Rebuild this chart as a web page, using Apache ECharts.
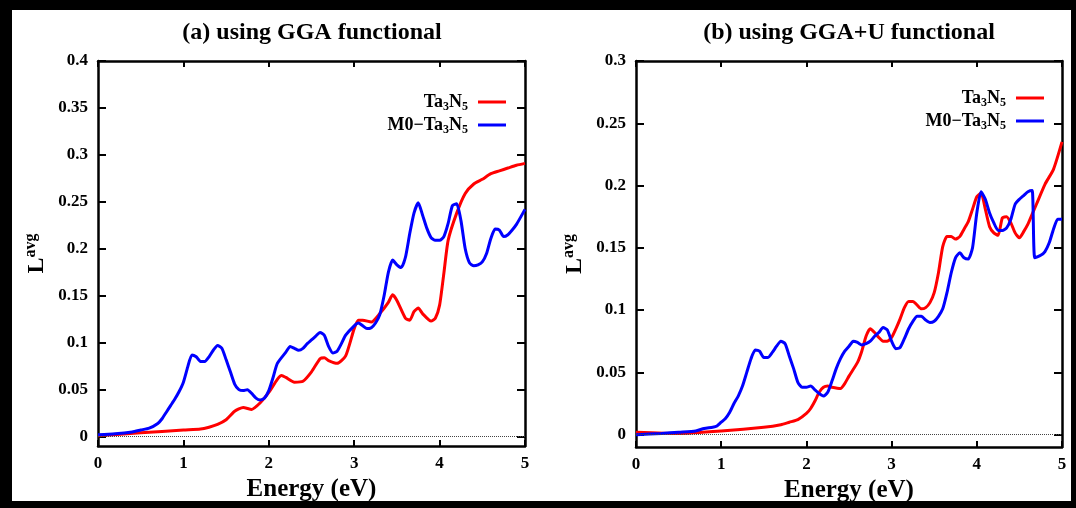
<!DOCTYPE html>
<html>
<head>
<meta charset="utf-8">
<title>Lavg</title>
<script src="https://cdn.jsdelivr.net/npm/echarts@6/dist/echarts.min.js"></script>
<style>
html, body { margin: 0; padding: 0; background: #000; }
#chart { width: 1076px; height: 508px; }
</style>
</head>
<body>
<div id="chart"></div>
<script>
// panel titles / legend names
var titles = ['(a) using GGA functional', '(b) using GGA+U functional'];
var names = ['Ta3N5', 'M0-Ta3N5'];

// tick values
var xTicks = [0, 1, 2, 3, 4, 5];
var yTicksA = [0, 0.05, 0.1, 0.15, 0.2, 0.25, 0.3, 0.35, 0.4];
var yTicksB = [0, 0.05, 0.1, 0.15, 0.2, 0.25, 0.3];

// (a) GGA - Ta3N5
var ggaRedE = [0, 0.5, 1.0, 1.2, 1.3, 1.4, 1.5, 1.6, 1.7, 1.8, 1.9, 2.0, 2.1, 2.15, 2.2, 2.3, 2.4, 2.5, 2.6, 2.65,
	2.7, 2.8, 2.9, 3.0, 3.05, 3.1, 3.2, 3.3, 3.4, 3.45, 3.5, 3.6, 3.65, 3.7, 3.75, 3.8, 3.9, 3.95, 4.0, 4.05,
	4.1, 4.2, 4.3, 4.4, 4.5, 4.6, 4.7, 4.8, 4.9, 5.0];
var ggaRedL = [0.001, 0.004, 0.007, 0.008, 0.010, 0.013, 0.018, 0.027, 0.031, 0.029, 0.036, 0.047, 0.061, 0.065, 0.063, 0.058, 0.059, 0.069, 0.083, 0.084,
	0.081, 0.078, 0.086, 0.115, 0.124, 0.124, 0.122, 0.131, 0.143, 0.151, 0.145, 0.126, 0.124, 0.133, 0.137, 0.131, 0.123, 0.126, 0.140, 0.174,
	0.209, 0.238, 0.259, 0.269, 0.274, 0.280, 0.283, 0.286, 0.289, 0.291];

// (a) GGA - M0-Ta3N5
var ggaBlueE = [0, 0.2, 0.4, 0.5, 0.6, 0.7, 0.75, 0.8, 0.85, 0.9, 0.95, 1.0, 1.05, 1.1, 1.15, 1.2, 1.25, 1.3, 1.35, 1.4,
	1.45, 1.5, 1.55, 1.6, 1.65, 1.7, 1.75, 1.8, 1.85, 1.9, 1.95, 2.0, 2.05, 2.1, 2.2, 2.25, 2.3, 2.35, 2.4, 2.45,
	2.5, 2.55, 2.6, 2.65, 2.7, 2.75, 2.8, 2.85, 2.9, 3.0, 3.05, 3.1, 3.15, 3.2, 3.25, 3.3, 3.35, 3.4, 3.45, 3.5,
	3.55, 3.6, 3.65, 3.7, 3.75, 3.8, 3.85, 3.9, 3.95, 4.0, 4.05, 4.1, 4.15, 4.2, 4.25, 4.3, 4.35, 4.4, 4.45, 4.5,
	4.55, 4.6, 4.65, 4.7, 4.75, 4.8, 4.85, 4.9, 5.0];
var ggaBlueL = [0.002, 0.003, 0.005, 0.007, 0.009, 0.014, 0.019, 0.026, 0.033, 0.040, 0.048, 0.058, 0.074, 0.087, 0.085, 0.080, 0.080, 0.085, 0.092, 0.097,
	0.094, 0.082, 0.069, 0.056, 0.050, 0.049, 0.050, 0.046, 0.041, 0.039, 0.041, 0.049, 0.063, 0.078, 0.090, 0.096, 0.094, 0.092, 0.094, 0.099,
	0.103, 0.107, 0.111, 0.108, 0.096, 0.089, 0.091, 0.099, 0.108, 0.118, 0.121, 0.118, 0.115, 0.116, 0.121, 0.130, 0.150, 0.175, 0.188, 0.183,
	0.180, 0.191, 0.216, 0.238, 0.249, 0.236, 0.222, 0.212, 0.209, 0.209, 0.213, 0.227, 0.246, 0.248, 0.230, 0.200, 0.185, 0.182, 0.183, 0.186,
	0.195, 0.211, 0.221, 0.220, 0.213, 0.215, 0.220, 0.226, 0.242];

// (b) GGA+U - Ta3N5
var ggauRedE = [0, 0.5, 1.0, 1.5, 1.7, 1.8, 1.9, 2.0, 2.05, 2.1, 2.15, 2.2, 2.25, 2.3, 2.4, 2.45, 2.5, 2.6, 2.65, 2.7,
	2.75, 2.8, 2.85, 2.9, 2.95, 3.0, 3.05, 3.1, 3.15, 3.2, 3.25, 3.3, 3.35, 3.4, 3.45, 3.5, 3.55, 3.6, 3.65, 3.7,
	3.75, 3.8, 3.85, 3.9, 3.95, 4.0, 4.05, 4.1, 4.15, 4.2, 4.25, 4.3, 4.35, 4.4, 4.45, 4.5, 4.55, 4.6, 4.65, 4.7,
	4.8, 4.9, 5.0];
var ggauRedL = [0.002, 0.001, 0.003, 0.006, 0.008, 0.010, 0.012, 0.017, 0.021, 0.027, 0.034, 0.038, 0.039, 0.038, 0.037, 0.041, 0.047, 0.058, 0.067, 0.079,
	0.085, 0.082, 0.078, 0.075, 0.075, 0.078, 0.085, 0.093, 0.102, 0.107, 0.107, 0.104, 0.101, 0.102, 0.106, 0.114, 0.130, 0.151, 0.159, 0.159,
	0.157, 0.159, 0.165, 0.171, 0.181, 0.191, 0.194, 0.181, 0.167, 0.162, 0.160, 0.174, 0.175, 0.170, 0.162, 0.158, 0.163, 0.169, 0.177, 0.185,
	0.201, 0.213, 0.235];

// (b) GGA+U - M0-Ta3N5
var ggauBlueE = [0, 0.3, 0.5, 0.7, 0.8, 0.9, 0.95, 1.0, 1.05, 1.1, 1.15, 1.2, 1.25, 1.3, 1.35, 1.4, 1.45, 1.5, 1.55, 1.6,
	1.65, 1.7, 1.75, 1.8, 1.85, 1.9, 1.95, 2.0, 2.05, 2.1, 2.15, 2.2, 2.25, 2.3, 2.35, 2.4, 2.45, 2.5, 2.55, 2.6,
	2.65, 2.7, 2.75, 2.8, 2.85, 2.9, 2.95, 3.0, 3.05, 3.1, 3.15, 3.2, 3.25, 3.3, 3.35, 3.4, 3.45, 3.5, 3.55, 3.6,
	3.65, 3.7, 3.75, 3.8, 3.85, 3.9, 3.95, 4.0, 4.05, 4.1, 4.15, 4.2, 4.25, 4.3, 4.35, 4.4, 4.45, 4.5, 4.55, 4.6,
	4.65, 4.68, 4.75, 4.8, 4.85, 4.9, 4.95, 5.0];
var ggauBlueL = [0.000, 0.001, 0.002, 0.003, 0.005, 0.006, 0.007, 0.010, 0.013, 0.018, 0.025, 0.031, 0.039, 0.050, 0.061, 0.068, 0.067, 0.062, 0.062, 0.066,
	0.071, 0.075, 0.073, 0.063, 0.053, 0.042, 0.038, 0.038, 0.039, 0.036, 0.033, 0.031, 0.034, 0.043, 0.053, 0.061, 0.067, 0.071, 0.075, 0.074,
	0.072, 0.073, 0.075, 0.079, 0.082, 0.086, 0.084, 0.075, 0.069, 0.070, 0.077, 0.085, 0.091, 0.095, 0.095, 0.092, 0.090, 0.091, 0.095, 0.101,
	0.114, 0.130, 0.142, 0.146, 0.142, 0.141, 0.150, 0.178, 0.195, 0.189, 0.178, 0.170, 0.164, 0.164, 0.166, 0.173, 0.185, 0.189, 0.192, 0.195,
	0.196, 0.142, 0.144, 0.147, 0.154, 0.165, 0.173, 0.173];

var serif = '"Liberation Serif", "DejaVu Serif", serif';
var red = '#ff0000', blue = '#0000ff';

function zip(xs, ys) {
	var out = [];
	for (var i = 0; i < xs.length; i++) out.push([xs[i], ys[i]]);
	return out;
}

// 图例文字: 下标
var legendRich = {
	n : { fontFamily : serif, fontWeight : 'bold', fontSize : 18, color : '#000' },
	s : { fontFamily : serif, fontWeight : 'bold', fontSize : 12, color : '#000', padding : [ 10, 0, 0, 0 ] }
};
function legendText(name) {
	var pre = name === names[0] ? '' : 'M0\u2212';
	return '{n|' + pre + 'Ta}{s|3}{n|N}{s|5}';
}

var axisLine = { onZero : false, lineStyle : { color : '#000', width : 2.5 } };

function xAxes(grid) {
	return [ {
		gridIndex : grid, type : 'value', min : 0, max : 5, interval : 1, position : 'bottom',
		name : 'Energy (eV)', nameLocation : 'middle', nameGap : 22,
		nameTextStyle : { fontFamily : serif, fontWeight : 'bold', fontSize : 25, color : '#000' },
		axisLine : axisLine,
		axisTick : { inside : true, length : 6, lineStyle : { color : '#000', width : 2 }, customValues : xTicks },
		axisLabel : { fontFamily : serif, fontWeight : 'bold', fontSize : 17, color : '#000', margin : 9, customValues : xTicks },
		splitLine : { show : false }
	}, {
		gridIndex : grid, type : 'value', min : 0, max : 5, interval : 1, position : 'top',
		axisLine : axisLine,
		axisTick : { inside : true, length : 6, lineStyle : { color : '#000', width : 2 }, customValues : xTicks },
		axisLabel : { show : false },
		splitLine : { show : false }
	} ];
}

function yAxes(grid, max, ticks) {
	return [ {
		gridIndex : grid, type : 'value', min : -0.01, max : max, position : 'left',
		name : '{b|L}{s|avg}', nameLocation : 'middle', nameGap : 47, nameRotate : 90,
		nameTextStyle : {
			rich : {
				b : { fontFamily : serif, fontWeight : 'bold', fontSize : 24, color : '#000' },
				s : { fontFamily : serif, fontWeight : 'bold', fontSize : 16, color : '#000', padding : [ 0, 0, 12, 0 ] }
			}
		},
		axisLine : axisLine,
		axisTick : { inside : true, length : 8, lineStyle : { color : '#000', width : 2 }, customValues : ticks },
		axisLabel : { fontFamily : serif, fontWeight : 'bold', fontSize : 17, color : '#000', margin : 10, customValues : ticks },
		splitLine : { show : false }
	}, {
		gridIndex : grid, type : 'value', min : -0.01, max : max, position : 'right',
		axisLine : axisLine,
		axisTick : { inside : true, length : 8, lineStyle : { color : '#000', width : 2 }, customValues : ticks },
		axisLabel : { show : false },
		splitLine : { show : false }
	} ];
}

function curve(name, color, xi, yi, xs, ys, zeroLine) {
	var s = {
		name : name, type : 'line', xAxisIndex : xi, yAxisIndex : yi,
		data : zip(xs, ys), symbol : 'none', smooth : 0.2,
		lineStyle : { color : color, width : 3 }, itemStyle : { color : color },
		z : 3
	};
	if (zeroLine) {
		s.markLine = {
			silent : true, symbol : [ 'none', 'none' ], label : { show : false },
			lineStyle : { color : '#444', width : 1, type : 'dotted' },
			data : [ { yAxis : 0 } ]
		};
	}
	return s;
}

function legend(right, top) {
	return {
		orient : 'vertical', right : right, top : top, align : 'right',
		padding : 0, itemGap : 3, itemWidth : 28, itemHeight : 3, icon : 'rect',
		selectedMode : false, data : names,
		formatter : legendText,
		textStyle : { rich : legendRich, padding : [ 0, 5, 0, 0 ] }
	};
}

var chart = echarts.init(document.getElementById('chart'));
chart.setOption({
	backgroundColor : '#000',
	animation : false,
	graphic : [
		{ type : 'rect', silent : true, z : -10, shape : { x : 12, y : 10, width : 1059, height : 491 }, style : { fill : '#fff' } },
		{ type : 'text', x : 312, y : 33, style : { text : titles[0], align : 'center', verticalAlign : 'middle', font : 'bold 24px ' + serif, fill : '#000' } },
		{ type : 'text', x : 849, y : 33, style : { text : titles[1], align : 'center', verticalAlign : 'middle', font : 'bold 24px ' + serif, fill : '#000' } }
	],
	grid : [
		{ left : 98, top : 61, width : 427, height : 385 },
		{ left : 636, top : 61, width : 426, height : 387 }
	],
	legend : [ legend(570, 93), legend(1076 - 1044, 89) ],
	xAxis : xAxes(0).concat(xAxes(1)),
	yAxis : yAxes(0, 0.4, yTicksA).concat(yAxes(1, 0.3, yTicksB)),
	series : [
		curve(names[0], red, 0, 0, ggaRedE, ggaRedL, true),
		curve(names[1], blue, 0, 0, ggaBlueE, ggaBlueL, false),
		curve(names[0], red, 2, 2, ggauRedE, ggauRedL, true),
		curve(names[1], blue, 2, 2, ggauBlueE, ggauBlueL, false)
	]
});
</script>
</body>
</html>
